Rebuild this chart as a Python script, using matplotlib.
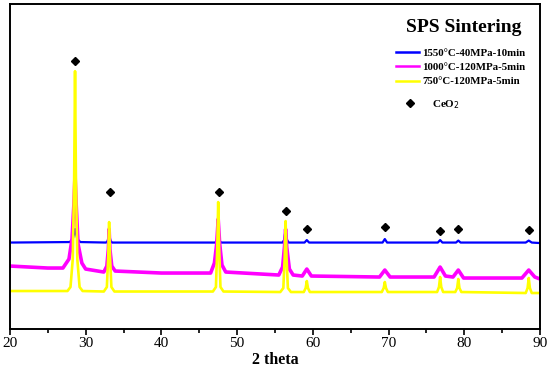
import matplotlib
matplotlib.use("Agg")
import matplotlib.pyplot as plt
from matplotlib.lines import Line2D
from matplotlib.ticker import MultipleLocator

plt.rcParams["font.family"] = ["Liberation Serif", "DejaVu Serif"]

# 2theta knots / intensity (a.u.)
tt_blue = [20, 27.9, 28.3, 28.6, 28.9, 29.3, 32.7, 32.9, 33.1, 33.3, 33.5,
           47.1, 47.3, 47.5, 47.7, 47.9, 56.0, 56.2, 56.4, 56.6, 56.8,
           58.9, 59.2, 59.5, 69.2, 69.5, 69.8, 76.5, 76.8, 77.1,
           78.9, 79.2, 79.5, 88.1, 88.5, 88.9, 90]
i_blue = [86.5, 87, 90, 100, 90, 87, 86.5, 88, 94, 88, 86.5,
          86.5, 88, 93, 88, 86.5, 86.5, 89, 99, 89, 86.5,
          86.5, 89, 86.5, 86.5, 90, 86.5, 86.5, 89, 86.5,
          86.5, 88.5, 86.5, 86.5, 88.5, 86.5, 86]

tt_mag = [20, 25, 27.0, 27.8, 28.2, 28.45, 28.6, 28.75, 29.0, 29.5, 30.0,
          32.4, 32.8, 33.0, 33.1, 33.2, 33.45, 33.9, 40, 46.5, 47.0, 47.3,
          47.5, 47.7, 48.0, 48.5, 55.5, 56.0, 56.25, 56.4, 56.55, 56.9, 57.4,
          58.6, 59.2, 59.8, 68.8, 69.5, 70.2, 76.0, 76.8, 77.5, 78.5, 79.2,
          79.9, 87.6, 88.5, 89.3, 90]
i_mag = [63, 61, 61, 70, 90, 125, 155, 125, 85, 66, 60,
         57, 63, 80, 100, 80, 63, 58, 56, 56, 66, 85,
         110, 85, 64, 57, 54, 62, 82, 100, 82, 60, 54,
         53, 60, 53, 52, 59, 52, 52, 62, 53, 52, 59,
         51, 51, 59, 52, 50]

tt_yel = [20, 27.6, 28.0, 28.3, 28.48, 28.6, 28.72, 28.9, 29.2, 29.6,
          32.4, 32.8, 32.98, 33.1, 33.22, 33.4, 33.8,
          46.8, 47.2, 47.38, 47.5, 47.62, 47.8, 48.2,
          55.7, 56.1, 56.28, 56.4, 56.52, 56.7, 57.1,
          58.8, 59.05, 59.2, 59.35, 59.6, 69.1, 69.35, 69.5, 69.65, 69.9,
          76.4, 76.65, 76.8, 76.95, 77.2, 78.8, 79.05, 79.2, 79.35, 79.6,
          88.1, 88.35, 88.5, 88.65, 88.9, 90]
i_yel = [38, 38, 42, 70, 148, 258, 148, 70, 42, 38,
         37.5, 42, 72, 107, 72, 42, 37.5,
         37.5, 42, 82, 127, 82, 42, 37.5,
         37, 41, 72, 108, 72, 41, 37,
         37, 41, 48, 41, 37, 37, 41, 47, 41, 37,
         37, 42, 52, 42, 37, 37, 41, 50, 41, 37,
         36, 41, 51, 41, 36, 36]

ceo2_tt = [28.6, 33.2, 47.55, 56.4, 59.25, 69.5, 76.8, 79.2, 88.5]
ceo2_i = [268, 137, 137, 118, 100, 102, 98, 100, 99]

labels = ["1550\u00b0C-40MPa-10min", "1000\u00b0C-120MPa-5min", "750\u00b0C-120MPa-5min"]
colors = ["#0000ff", "#ff00ff", "#ffff00"]

fig = plt.figure(figsize=(5.5, 3.75), dpi=100)
ax = fig.add_axes([0.018, 0.1227, 0.964, 0.866])

ax.plot(tt_blue, i_blue, color=colors[0], lw=1.6)
ax.plot(tt_mag, i_mag, color=colors[1], lw=2.6)
ax.plot(tt_yel, i_yel, color=colors[2], lw=1.9)
ax.plot(ceo2_tt, ceo2_i, "D", color="black", ms=4.5, ls="none")

ax.set_xlim(20, 90)
ax.set_ylim(0, 325)
ax.set_yticks([])
ax.xaxis.set_major_locator(MultipleLocator(10))
ax.xaxis.set_minor_locator(MultipleLocator(5))
ax.tick_params(axis="x", which="major", direction="out", length=4, width=1.2,
               labelsize=11, pad=2)
ax.tick_params(axis="x", which="minor", direction="out", length=3, width=1.2)
for s in ax.spines.values():
    s.set_linewidth(1.4)
ax.set_xlabel("2 theta", fontsize=11.5, fontweight="bold", labelpad=1)

# legend block, placed in figure pixels / size
W, H = 550, 375
fig.text(522 / W, 1 - 28 / H, "SPS Sintering", ha="right", va="center",
         fontsize=14, fontweight="bold")

handles = [Line2D([], [], color=c, lw=1.8) for c in colors]
leg1 = fig.legend(handles, labels, loc="upper left",
                  bbox_to_anchor=(396 / W, 1 - 48 / H), frameon=False,
                  borderpad=0, borderaxespad=0, handlelength=2.1,
                  handletextpad=0.3, labelspacing=0.45,
                  prop={"size": 7.8, "weight": "bold"})
mk = Line2D([], [], marker="D", color="black", ls="none", ms=4.5)
leg2 = fig.legend([mk], ["CeO$_2$"], loc="upper left",
                  bbox_to_anchor=(399 / W, 1 - 98 / H), frameon=False,
                  borderpad=0, borderaxespad=0, handlelength=2.0,
                  handletextpad=1.0, prop={"size": 8, "weight": "bold"})

fig.savefig("out.png", dpi=100)
